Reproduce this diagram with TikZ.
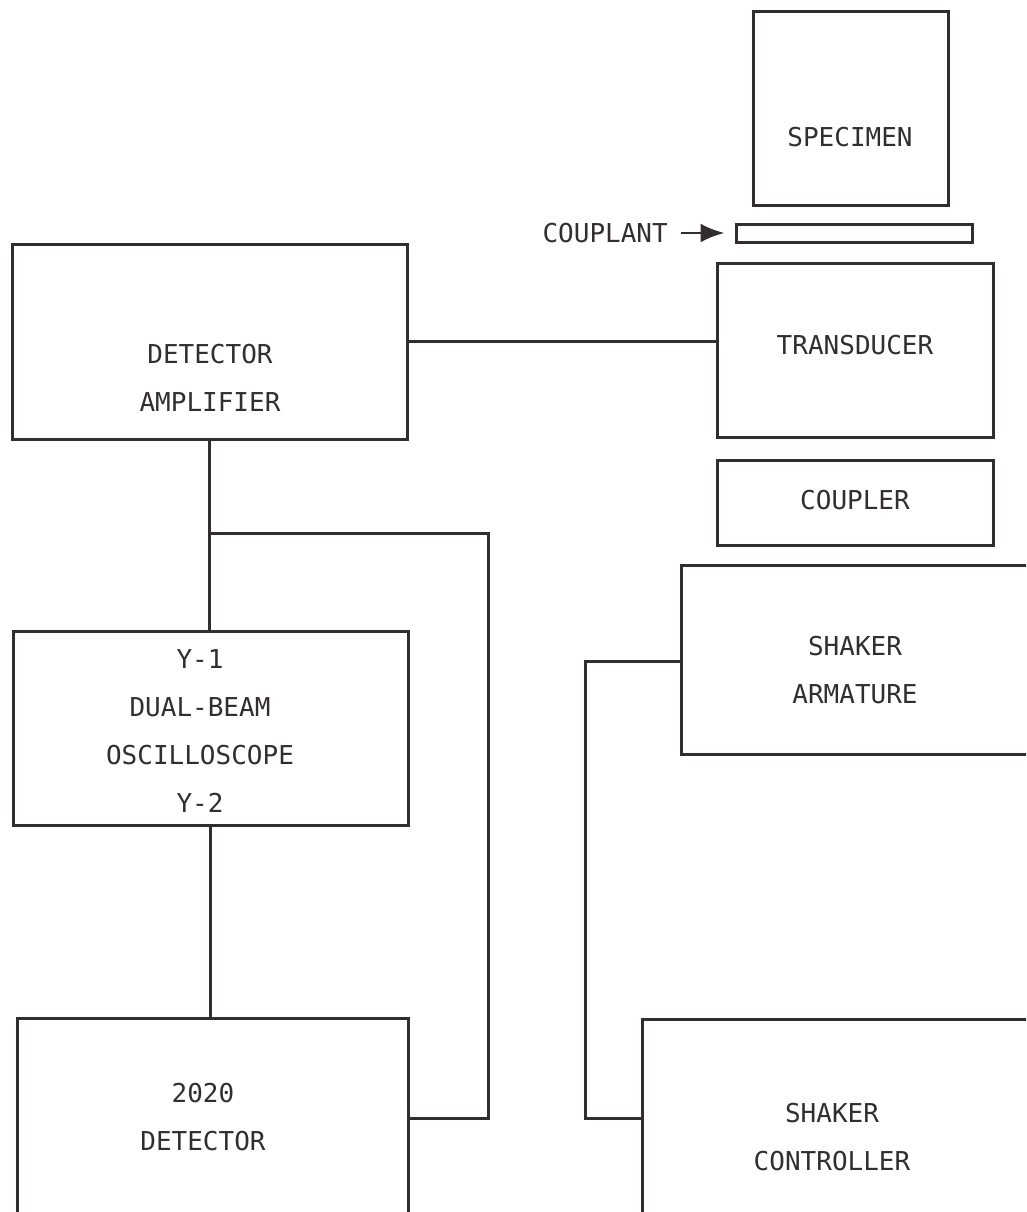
\documentclass[tikz,border=0pt]{standalone}
\usepackage{fontspec}
\newfontfamily\lettering{DejaVu Sans Mono}
\usetikzlibrary{arrows.meta,positioning,calc}
\definecolor{inkgray}{RGB}{50,46,46}

\begin{document}
\begin{tikzpicture}[x=1pt, y=-1pt, >=Latex,
  blk/.style={rectangle, draw=inkgray, line width=3pt, inner sep=0pt},
  lbl/.style={font=\lettering\fontsize{26}{48}\selectfont, text=inkgray, align=center, inner sep=0pt},
  wire/.style={draw=inkgray, line width=3pt}]
\useasboundingbox (0,0) rectangle (1026,1212);
\clip (0,0) rectangle (1026,1212);
% Right column: specimen stack
\node[blk, minimum width=195pt, minimum height=193pt] (spec) at (850.5,108.5) {};
\node[lbl] (spectxt) at (850,137) {SPECIMEN};
\node[blk, minimum width=236pt, minimum height=18pt] (cplnt) at (854,233) {};
\node[lbl, anchor=east] (cplnttxt) at (668,233) {COUPLANT};
\node[blk, minimum width=276pt, minimum height=174pt] (trans) at (855,350) {};
\node[lbl] (transtxt) at (855,345) {TRANSDUCER};
\node[blk, minimum width=276pt, minimum height=85pt] (cplr) at (855,502.5) {};
\node[lbl] (cplrtxt) at (855,500) {COUPLER};
\node[blk, minimum width=349pt, minimum height=189pt] (arm) at (855.5,659.5) {};
\node[lbl] (armtxt) at (855,670.5) {SHAKER\\ARMATURE};
\node[blk, minimum width=398pt, minimum height=211pt] (ctrl) at (841,1124.5) {};
\node[lbl] (ctrltxt) at (832,1137.5) {SHAKER\\CONTROLLER};
% Left column
\node[blk, minimum width=395pt, minimum height=195pt] (amp) at (209.5,341.5) {};
\node[lbl] (amptxt) at (210,377.5) {DETECTOR\\AMPLIFIER};
\node[blk, minimum width=395pt, minimum height=194pt] (scope) at (210.5,728) {};
\node[lbl] (scopetxt) at (200,731.5) {Y-1\\DUAL-BEAM\\OSCILLOSCOPE\\Y-2};
\node[blk, minimum width=391pt, minimum height=212pt] (det) at (212.5,1124) {};
\node[lbl] (dettxt) at (203,1117.5) {2020\\DETECTOR};
% Connectors
\coordinate (tap) at (210,533);
\coordinate (loopr) at (488,1118);
\coordinate (shk) at (585,661);
\coordinate (shkb) at (585,1118);
\draw[wire, line width=2.8pt, -{Latex[length=24pt,width=19pt]}, shorten <=13pt, shorten >=10pt] (cplnttxt.east) -- (cplnt.west);
\draw[wire] (amp.east) -- (amp.east -| trans.west);
\draw[wire] (amp.south) -- (amp.south |- scope.north);
\draw[wire] (tap) -| (loopr) -- (loopr -| det.east);
\draw[wire] (scope.south) -- (scope.south |- det.north);
\draw[wire] (arm.west |- shk) -- (shk) -- (shkb) -- (shkb -| ctrl.west);
\end{tikzpicture}
\end{document}
